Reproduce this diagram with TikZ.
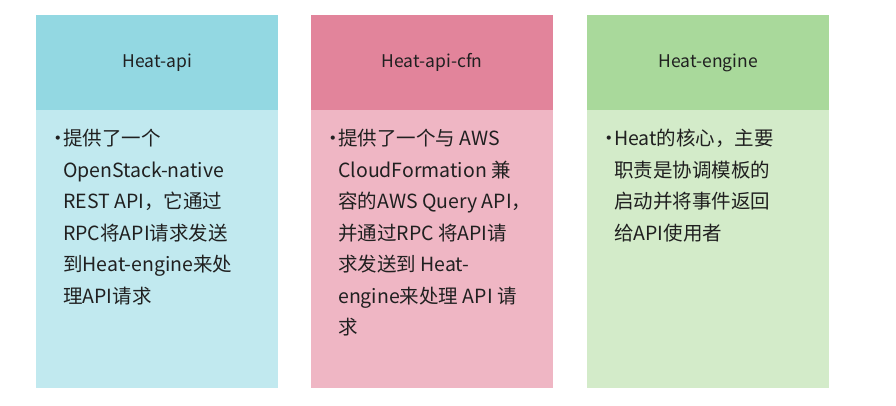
\documentclass[tikz,border=0pt]{standalone}
\usepackage{fontspec}
\setmainfont{Noto Sans CJK SC}
\definecolor{h1}{HTML}{93D8E2}\definecolor{b1}{HTML}{C1E9EF}
\definecolor{h2}{HTML}{E2849B}\definecolor{b2}{HTML}{EFB6C4}
\definecolor{h3}{HTML}{A9D99B}\definecolor{b3}{HTML}{D3EBC9}
\definecolor{tx}{HTML}{202020}
\tikzset{hd/.style={anchor=north west,minimum width=242pt,minimum height=95pt,inner sep=0pt,font=\fontsize{17.5}{20}\selectfont,text=tx},
bd/.style={anchor=north west,minimum width=242pt,minimum height=278pt,inner sep=0pt},
tx/.style={anchor=north west,align=left,inner sep=0pt,font=\fontsize{19.5}{31.5}\selectfont,text=tx}}
\newcommand{\bul}{\makebox[16pt][l]{\hspace{1pt}•}}
\newcommand{\ind}{\hspace{16pt}}
\begin{document}
\begin{tikzpicture}[x=1pt,y=-1pt]
\useasboundingbox (0,0) rectangle (896,405);
\node[hd,fill=h1] (H1) at (36,15) {Heat-api};
\node[bd,fill=b1] (B1) at (36,110) {};
\node[hd,fill=h2] (H2) at (311,15) {Heat-api-cfn};
\node[bd,fill=b2] (B2) at (311,110) {};
\node[hd,fill=h3] (H3) at (587,15) {Heat-engine};
\node[bd,fill=b3] (B3) at (587,110) {};
\node[tx] (d1) at (47,129) {\bul 提供了一个\\\ind OpenStack-native\\\ind REST API，它通过\\\ind RPC将API请求发送\\\ind 到Heat-engine来处\\\ind 理API请求};
\node[tx] (d2) at (322,129) {\bul 提供了一个与 AWS\\\ind CloudFormation 兼\\\ind 容的AWS Query API，\\\ind 并通过RPC 将API请\\\ind 求发送到 Heat-\\\ind engine来处理 API 请\\\ind 求};
\node[tx] (d3) at (598,129) {\bul Heat的核心，主要\\\ind 职责是协调模板的\\\ind 启动并将事件返回\\\ind 给API使用者};
\end{tikzpicture}
\end{document}
